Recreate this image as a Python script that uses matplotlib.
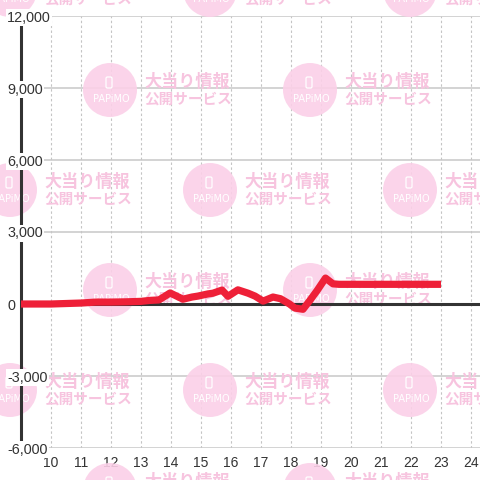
import matplotlib
matplotlib.use('Agg')
import matplotlib.pyplot as plt
from matplotlib.patches import Circle, FancyBboxPatch

# ---- dados ----
jogos = [9, 10, 11, 11.5, 12, 12.5, 13, 13.3, 13.6, 13.97, 14.4, 14.7, 14.9,
         15.23, 15.4, 15.7, 15.9, 16.23, 16.57, 16.8, 17.07, 17.4, 17.65,
         17.95, 18.13, 18.4, 18.63, 18.87, 19.15, 19.4, 19.6, 20, 21, 22, 23]
saldo = [0, 0, 40, 80, 80, 90, 110, 150, 170, 460, 200, 290, 330,
         420, 450, 580, 320, 590, 450, 330, 120, 290, 220,
         0, -170, -220, 150, 560, 1080, 840, 820, 820, 820, 820, 820]

y_ticks = [-6000, -3000, 0, 3000, 6000, 9000, 12000]
y_labels = ['-6,000', '-3,000', '0', '3,000', '6,000', '9,000', '12,000']
x_ticks = list(range(10, 25))

# marca d'agua: centros dos circulos (pixels, y para baixo)
wm_centros = [(10, -10), (210, -10), (410, -10),
              (110, 90), (310, 90),
              (10, 190), (210, 190), (410, 190),
              (110, 290), (310, 290),
              (10, 390), (210, 390), (410, 390),
              (110, 490), (310, 490)]

VERMELHO = '#ee2038'
ROSA_CIRC = '#fbd0e8'
ROSA_TXT = '#f7c4df'

plt.rcParams['font.family'] = ['Liberation Sans', 'DejaVu Sans']

fig = plt.figure(figsize=(4.8, 4.8), dpi=100)
pos = [21 / 480, 32 / 480, 459 / 480, 432 / 480]
ax = fig.add_axes(pos)
ax.set_xlim(9, 9 + 459 / 30)
ax.set_ylim(-6000, 12000)

# grade
ax.set_axisbelow(True)
ax.set_yticks(range(-6000, 12001, 1000))
ax.set_xticks(x_ticks)
ax.grid(axis='y', color='#c8c8c8', linewidth=1.1, linestyle='-')
ax.grid(axis='x', color='#c4c4c4', linewidth=0.8, linestyle=(0, (2.2, 2.2)))
ax.tick_params(axis='y', length=0, labelleft=False)
ax.tick_params(axis='x', length=0, pad=6, labelsize=10, labelcolor='#333333')
for s in ['top', 'right', 'bottom']:
    ax.spines[s].set_visible(False)
ax.spines['left'].set_color('#333333')
ax.spines['left'].set_linewidth(2.2)

# marca d'agua
tf = fig.transFigure
for cx, cy in wm_centros:
    fx, fy = cx / 480, 1 - cy / 480
    ax.add_patch(Circle((fx, fy), 27 / 480, transform=tf, facecolor=ROSA_CIRC,
                        edgecolor='none', alpha=0.9, zorder=1, clip_on=False))
    ax.add_patch(FancyBboxPatch(((cx - 4) / 480, 1 - (cy - 2) / 480), 6 / 480, 11 / 480,
                                boxstyle='round,pad=0,rounding_size=0.003', transform=tf,
                                facecolor='none', edgecolor='white', linewidth=0.9,
                                zorder=1.1, clip_on=False))
    ax.text((cx + 1) / 480, 1 - (cy + 9) / 480, 'PAPiMO', transform=tf, color='white',
            fontsize=7, ha='center', va='center', zorder=1.1, clip_on=False,
            family=['DejaVu Sans'])
    ax.text((cx + 34) / 480, 1 - (cy - 8) / 480, '大当り情報', transform=tf,
            color=ROSA_TXT, fontsize=12.3, fontweight='bold', ha='left', va='center',
            zorder=1, clip_on=False, family=['Noto Sans CJK JP', 'DejaVu Sans'])
    ax.text((cx + 34) / 480, 1 - (cy + 9) / 480, '公開サービス', transform=tf,
            color=ROSA_TXT, fontsize=10.5, fontweight='bold', ha='left', va='center',
            zorder=1, clip_on=False, family=['Noto Sans CJK JP', 'DejaVu Sans'])

# linha do zero e serie
ax.axhline(0, color='#333333', linewidth=2.2, zorder=2)
ax.plot(jogos, saldo, color=VERMELHO, linewidth=5.2, solid_joinstyle='round',
        solid_capstyle='butt', zorder=3)

# rotulos do eixo y por cima (fundo branco)
ax2 = fig.add_axes(pos, sharey=ax)
ax2.patch.set_visible(False)
for s in ax2.spines.values():
    s.set_visible(False)
ax2.set_xticks([])
ax2.set_yticks(y_ticks)
ax2.set_yticklabels(y_labels)
ax2.tick_params(axis='y', length=0, pad=10, labelsize=10.4, labelcolor='#333333')
for lbl in ax2.get_yticklabels():
    lbl.set_horizontalalignment('left')
    lbl.set_bbox(dict(facecolor='white', edgecolor='none', pad=1.0))

fig.savefig('out.png', dpi=100)
